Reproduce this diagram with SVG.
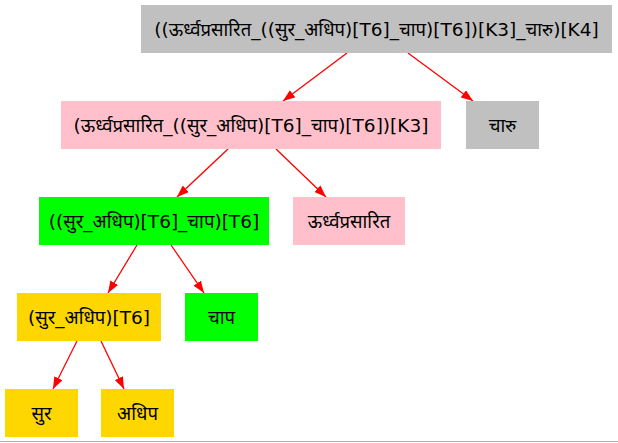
<svg xmlns="http://www.w3.org/2000/svg" width="618" height="443" viewBox="0 0 618 443">
<style>
text{font-family:"DejaVu Sans","Noto Sans",sans-serif;font-size:18.5px;text-anchor:middle;dominant-baseline:central;fill:#000}
.e{stroke:#ff0000;stroke-width:1.3;fill:none}
</style>
<defs>
<marker id="a" markerWidth="12" markerHeight="9" refX="12" refY="4.5" orient="auto" markerUnits="userSpaceOnUse">
<path d="M0,0 L12,4.5 L0,9 Z" fill="#ff0000"/>
</marker>
</defs>
<rect width="618" height="443" fill="#fff"/>
<g id="edges">
<line class="e" x1="347" y1="53" x2="283" y2="101" marker-end="url(#a)"/>
<line class="e" x1="408" y1="53" x2="473" y2="101" marker-end="url(#a)"/>
<line class="e" x1="228" y1="149" x2="177" y2="197" marker-end="url(#a)"/>
<line class="e" x1="276" y1="149" x2="326" y2="197" marker-end="url(#a)"/>
<line class="e" x1="137" y1="245" x2="108" y2="293" marker-end="url(#a)"/>
<line class="e" x1="171" y1="245" x2="204" y2="293" marker-end="url(#a)"/>
<line class="e" x1="77" y1="341" x2="53" y2="389" marker-end="url(#a)"/>
<line class="e" x1="101" y1="341" x2="124" y2="389" marker-end="url(#a)"/>
</g>
<g id="n1"><rect x="141" y="5" width="471" height="48" fill="#c0c0c0"/><text x="376.5" y="29">((ऊर्ध्वप्रसारित_((सुर_अधिप)[T6]_चाप)[T6])[K3]_चारु)[K4]</text></g>
<g id="n2"><rect x="61" y="101" width="380" height="48" fill="#ffc0cb"/><text x="251" y="125">(ऊर्ध्वप्रसारित_((सुर_अधिप)[T6]_चाप)[T6])[K3]</text></g>
<g id="n3"><rect x="466" y="101" width="73" height="48" fill="#c0c0c0"/><text x="502.5" y="125">चारु</text></g>
<g id="n4"><rect x="39" y="197" width="230" height="48" fill="#00ff00"/><text x="154" y="221">((सुर_अधिप)[T6]_चाप)[T6]</text></g>
<g id="n5"><rect x="293" y="197" width="112" height="48" fill="#ffc0cb"/><text x="349" y="221">ऊर्ध्वप्रसारित</text></g>
<g id="n6"><rect x="17" y="293" width="144" height="48" fill="#ffd700"/><text x="89" y="317">(सुर_अधिप)[T6]</text></g>
<g id="n7"><rect x="185" y="293" width="73" height="48" fill="#00ff00"/><text x="221.5" y="317">चाप</text></g>
<g id="n8"><rect x="5" y="389" width="73" height="48" fill="#ffd700"/><text x="41.5" y="413">सुर</text></g>
<g id="n9"><rect x="101" y="389" width="73" height="48" fill="#ffd700"/><text x="137.5" y="413">अधिप</text></g>
<line x1="0" y1="441.5" x2="618" y2="441.5" stroke="#a8b0a8" stroke-width="1"/>
</svg>
